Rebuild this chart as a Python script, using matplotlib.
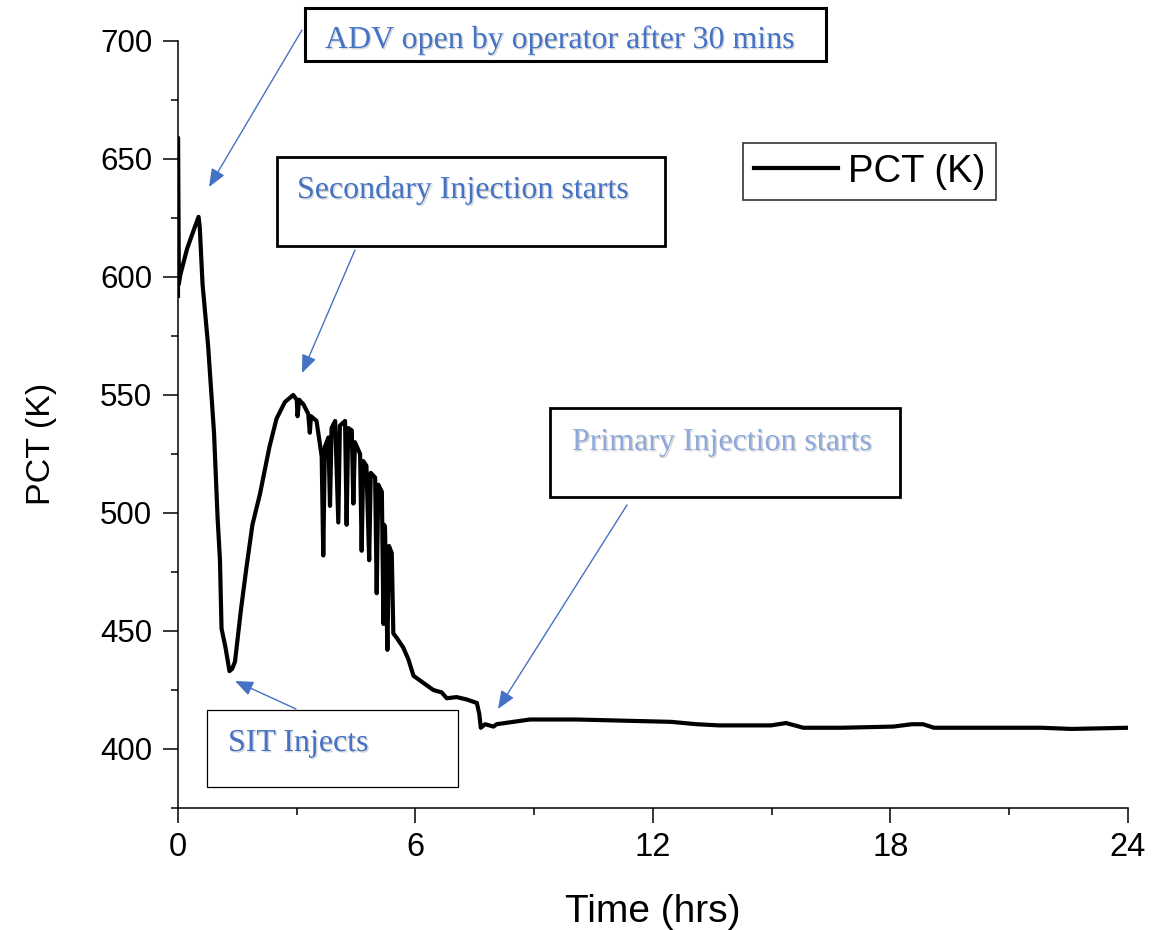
import matplotlib
matplotlib.use("Agg")
import matplotlib.pyplot as plt
import matplotlib.patheffects as pe
from matplotlib.patches import Rectangle
from matplotlib.ticker import MultipleLocator

# PCT trace (time in hrs, temperature in K)
time_hrs = [0, 0, 0.02, 0.06, 0.23, 0.40, 0.52, 0.55, 0.62, 0.76, 0.91, 1.00,
            1.06, 1.10, 1.20, 1.30, 1.37, 1.44, 1.59, 1.73, 1.88, 2.07, 2.31,
            2.49, 2.70, 2.91, 3.00, 3.02, 3.06, 3.17, 3.29, 3.33, 3.36, 3.50,
            3.63, 3.67, 3.71, 3.80, 3.84, 3.88, 3.97, 4.05, 4.09, 4.22, 4.26,
            4.30, 4.39, 4.43, 4.47, 4.60, 4.64, 4.68, 4.76, 4.83, 4.87, 4.98,
            5.02, 5.06, 5.15, 5.19, 5.21, 5.23, 5.29, 5.33, 5.40, 5.44, 5.53,
            5.69, 5.82, 5.95, 6.20, 6.45, 6.66, 6.79, 7.04, 7.29, 7.55, 7.61,
            7.65, 7.76, 7.97, 8.05, 8.47, 8.89, 10.07, 12.46, 13.10, 13.67,
            14.98, 15.36, 15.80, 16.76, 18.07, 18.54, 18.82, 19.10, 19.85,
            21.82, 22.57, 24.0]
pct_k = [592, 659, 597, 601, 612, 620, 625.5, 621, 597, 571, 534, 498,
         480, 451, 443, 433, 434, 437, 459, 477, 495, 508, 528,
         540, 547, 550, 548, 541, 548, 546, 542, 534, 541, 539,
         524, 482, 528, 532, 503, 536, 539, 496, 537, 539, 495,
         536, 535, 504, 530, 525, 484, 522, 520, 480, 517, 515,
         466, 512, 509, 453, 495, 493, 442, 486, 483, 449, 447,
         443, 438, 431, 428, 425, 424, 421.5, 422, 421, 419.5, 415,
         409, 410.5, 409.5, 410.5, 411.5, 412.5, 412.5, 411.5, 410.5, 410,
         410, 411, 409, 409, 409.5, 410.5, 410.5, 409, 409,
         409, 408.5, 409]

x_ticks = [0, 6, 12, 18, 24]
y_ticks = [400, 450, 500, 550, 600, 650, 700]

BLUE = "#4472C4"
LIGHT_BLUE = "#8DA9DB"
W, H = 1170, 930


def px(x, y):
    # reference pixel position -> figure fraction
    return (x / W, 1 - y / H)


fig = plt.figure(figsize=(W / 100, H / 100), dpi=100)
ax = fig.add_axes([178 / W, 1 - 808 / H, 950 / W, 767 / H])

ax.plot(time_hrs, pct_k, color="black", lw=3.0, label="PCT (K)")

ax.set_xlim(0, 24)
ax.set_ylim(375, 700)
ax.set_xticks(x_ticks)
ax.set_yticks(y_ticks)
ax.xaxis.set_minor_locator(MultipleLocator(3))
ax.yaxis.set_minor_locator(MultipleLocator(25))
for s in ("top", "right"):
    ax.spines[s].set_visible(False)
for s in ("left", "bottom"):
    ax.spines[s].set_linewidth(1.1)
ax.tick_params(which="major", direction="out", length=10.5, width=1.1)
ax.tick_params(which="minor", direction="out", length=5, width=1.1)
ax.tick_params(axis="y", which="major", labelsize=22.5, pad=8)
ax.tick_params(axis="x", which="major", labelsize=23.5, pad=7)
for lab in ax.get_xticklabels() + ax.get_yticklabels():
    lab.set_family("Liberation Sans")

ax.set_xlabel("Time (hrs)", fontsize=28, family="Liberation Sans", labelpad=22)
ax.set_ylabel("PCT (K)", fontsize=24.5, family="Liberation Sans")
ax.yaxis.set_label_coords(-0.127, 0.475)

leg = ax.legend(loc="upper left", bbox_to_anchor=px(743, 143),
                bbox_transform=fig.transFigure, borderaxespad=0,
                prop={"family": "Liberation Sans", "size": 27.5},
                handlelength=2.2, handletextpad=0.28, borderpad=0.28,
                fancybox=False, framealpha=1)
leg.get_frame().set_edgecolor("#333333")
leg.get_frame().set_linewidth(1.2)

# annotation boxes: (left, top, right, bottom) in reference pixels, border width
boxes = [
    ((305, 8, 826, 61), 2.2),
    ((277, 157, 665, 246), 2.0),
    ((550, 408, 900, 497), 2.0),
    ((207, 710, 458, 787), 0.9),
]
for (l, t, r, b), lw in boxes:
    x0, y0 = px(l, b)
    x1, y1 = px(r, t)
    fig.add_artist(Rectangle((x0, y0), x1 - x0, y1 - y0, fill=False,
                             edgecolor="black", lw=lw, transform=fig.transFigure))

shadow = [pe.SimplePatchShadow(offset=(1, -1), shadow_rgbFace="#999999", alpha=0.4),
          pe.Normal()]
notes = [
    ("ADV open by operator after 30 mins", 325, 48, BLUE),
    ("Secondary Injection starts", 297, 198, BLUE),
    ("Primary Injection starts", 572, 450, LIGHT_BLUE),
    ("SIT Injects", 228, 751, BLUE),
]
for text, x, y, c in notes:
    fig.text(*px(x, y), text, color=c, fontsize=23, family="Liberation Serif",
             ha="left", va="baseline", path_effects=shadow)

# arrows: tail -> tip in reference pixels
arrows = [
    ((302, 30), (209, 187)),
    ((355, 250), (302, 373)),
    ((627, 505), (498, 709)),
    ((296, 709), (235, 681)),
]
for tail, tip in arrows:
    ax.annotate("", xy=px(*tip), xycoords="figure fraction",
                xytext=px(*tail), textcoords="figure fraction",
                annotation_clip=False,
                arrowprops=dict(arrowstyle="-|>,head_length=1.1,head_width=0.45",
                                color=BLUE, lw=1.0, shrinkA=0, shrinkB=0,
                                mutation_scale=10))

fig.savefig("out.png", dpi=100)
